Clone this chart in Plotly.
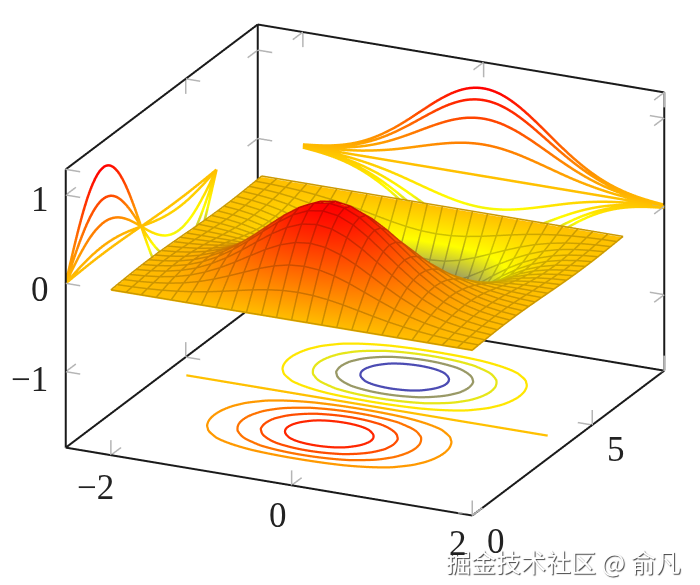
import numpy as np
import plotly.graph_objects as go

# surface sample positions
x_vals = [k / 6 for k in range(-12, 13)]
y_vals = [j * 2 * np.pi / 24 for j in range(25)]

# surface heights, one list per y row
row_a = [0.0] * 25
row_b = [.005,.009,.016,.027,.044,.067,.095,.129,.166,.202,.232,.252,.259,.252,.232,.202,.166,.129,.095,.067,.044,.027,.016,.009,.005]
row_c = [.009,.017,.031,.053,.085,.128,.184,.25,.32,.39,.448,.487,.5,.487,.448,.39,.32,.25,.184,.128,.085,.053,.031,.017,.009]
row_d = [.013,.025,.044,.074,.119,.182,.26,.353,.453,.551,.633,.688,.707,.688,.633,.551,.453,.353,.26,.182,.119,.074,.044,.025,.013]
row_e = [.016,.03,.054,.091,.146,.223,.319,.432,.555,.675,.775,.843,.866,.843,.775,.675,.555,.432,.319,.223,.146,.091,.054,.03,.016]
row_f = [.018,.034,.06,.101,.163,.248,.355,.482,.619,.752,.865,.94,.966,.94,.865,.752,.619,.482,.355,.248,.163,.101,.06,.034,.018]
row_g = [.018,.035,.062,.105,.169,.257,.368,.499,.641,.779,.895,.973,1.0,.973,.895,.779,.641,.499,.368,.257,.169,.105,.062,.035,.018]
upper_rows = [row_a, row_b, row_c, row_d, row_e, row_f, row_g, row_f, row_e, row_d, row_c, row_b, row_a]
lower_rows = [row_b, row_c, row_d, row_e, row_f, row_g, row_f, row_e, row_d, row_c, row_b, row_a]

# extra back-wall profiles
wall_row_p = [.012,.023,.041,.069,.111,.168,.241,.327,.42,.51,.586,.637,.655,.637,.586,.51,.42,.327,.241,.168,.111,.069,.041,.023,.012]
wall_row_q = [.006,.013,.022,.038,.061,.093,.132,.18,.231,.28,.322,.35,.36,.35,.322,.28,.231,.18,.132,.093,.061,.038,.022,.013,.006]

contour_levels = [-0.8, -0.6, -0.4, -0.2, 0.0, 0.2, 0.4, 0.6, 0.8]
left_wall_columns = [12, 16, 18, 21, 24]  # x = 0, .67, 1, 1.5, 2
contour_plane = -1.6
x_range = [-2.5, 2.0]
y_range = [0.0, 8.0]
z_range = [-1.86, 1.29]
x_ticks = [-2, 0, 2]
y_ticks = [0, 5]
z_ticks = [-1, 0, 1]
dx_tick, dy_tick, dz_tick = 0.16, 0.42, 0.17

hot = [[0, "rgb(0,0,255)"], [1 / 3, "rgb(255,255,0)"], [2 / 3, "rgb(255,128,0)"], [1, "rgb(255,0,0)"]]
hot_dark = [[0, "rgb(0,0,204)"], [1 / 3, "rgb(204,204,0)"], [2 / 3, "rgb(204,102,0)"], [1, "rgb(204,0,0)"]]

X = np.array(x_vals)
Y = np.array(y_vals)
Z = np.array(upper_rows + [[-v for v in r] for r in lower_rows])


def smooth(points, closed=False, passes=2):
    """Round the corners of a polyline drawn from the grid samples."""
    p = np.asarray(points, dtype=float)
    for _ in range(passes):
        q = np.vstack([p, p[:1]]) if closed else p
        a = 0.75 * q[:-1] + 0.25 * q[1:]
        b = 0.25 * q[:-1] + 0.75 * q[1:]
        m = np.empty((2 * len(a), p.shape[1]))
        m[0::2], m[1::2] = a, b
        p = m if closed else np.vstack([p[:1], m, p[-1:]])
    return p


def chain(segments):
    """Join contour cell segments into polylines."""
    rings = []
    left = [tuple(s) for s in segments]
    key = lambda c: (round(c[0], 6), round(c[1], 6))
    while left:
        a, b = left.pop()
        ring = [a, b]
        grown = True
        while grown:
            grown = False
            for n, (c, e) in enumerate(left):
                if key(c) == key(ring[-1]):
                    ring.append(e)
                elif key(e) == key(ring[-1]):
                    ring.append(c)
                else:
                    continue
                left.pop(n)
                grown = True
                break
        rings.append(ring)
    return rings


fig = go.Figure()

# frame
x0, x1 = x_range
y0, y1 = y_range
z0, z1 = z_range
frame = [
    ((x0, y0, z0), (x1, y0, z0)), ((x1, y0, z0), (x1, y1, z0)),
    ((x0, y0, z0), (x0, y1, z0)), ((x0, y1, z0), (x1, y1, z0)),
    ((x0, y0, z0), (x0, y0, z1)), ((x0, y1, z0), (x0, y1, z1)),
    ((x1, y1, z0), (x1, y1, z1)), ((x0, y0, z1), (x0, y1, z1)),
    ((x0, y1, z1), (x1, y1, z1)),
]
fx, fy, fz = [], [], []
for a, b in frame:
    fx += [a[0], b[0], None]
    fy += [a[1], b[1], None]
    fz += [a[2], b[2], None]
fig.add_trace(go.Scatter3d(x=fx, y=fy, z=fz, mode="lines", line=dict(color="#1a1a1a", width=4),
                           hoverinfo="skip", showlegend=False))

# tick marks
tx, ty, tz = [], [], []
def tick(p, d):
    tx.extend([p[0], p[0] + d[0], None])
    ty.extend([p[1], p[1] + d[1], None])
    tz.extend([p[2], p[2] + d[2], None])
for v in x_ticks:
    for (yy, zz, sy, sz) in [(y0, z0, 1, 1), (y1, z0, -1, 1), (y1, z1, -1, -1)]:
        tick((v, yy, zz), (0, sy * dy_tick, 0))
        tick((v, yy, zz), (0, 0, sz * dz_tick))
for v in y_ticks:
    for (xx, zz, sx, sz) in [(x0, z0, 1, 1), (x0, z1, 1, -1), (x1, z0, -1, 1)]:
        tick((xx, v, zz), (sx * dx_tick, 0, 0))
        tick((xx, v, zz), (0, 0, sz * dz_tick))
for v in z_ticks:
    for (xx, yy, sx, sy) in [(x0, y0, 1, 1), (x0, y1, 1, -1), (x1, y1, -1, -1)]:
        tick((xx, yy, v), (sx * dx_tick, 0, 0))
        tick((xx, yy, v), (0, sy * dy_tick, 0))
fig.add_trace(go.Scatter3d(x=tx, y=ty, z=tz, mode="lines", line=dict(color="#b5b5b5", width=3),
                           hoverinfo="skip", showlegend=False))

# surface
fig.add_trace(go.Surface(
    x=X, y=Y, z=Z, surfacecolor=Z, cmin=-1, cmax=1, colorscale=hot, showscale=False,
    lighting=dict(ambient=1, diffuse=0, specular=0, roughness=1, fresnel=0),
    contours=dict(x=dict(highlight=False), y=dict(highlight=False), z=dict(highlight=False)),
    hoverinfo="skip",
))

# mesh lines along the grid rows and columns, just above the surface
lift = 0.012
for j in range(len(y_vals)):
    fig.add_trace(go.Scatter3d(
        x=X, y=[Y[j]] * len(X), z=Z[j, :] + lift, mode="lines",
        line=dict(width=3, color=Z[j, :], cmin=-1, cmax=1, colorscale=hot_dark),
        hoverinfo="skip", showlegend=False))
for i in range(len(x_vals)):
    fig.add_trace(go.Scatter3d(
        x=[X[i]] * len(Y), y=Y, z=Z[:, i] + lift, mode="lines",
        line=dict(width=3, color=Z[:, i], cmin=-1, cmax=1, colorscale=hot_dark),
        hoverinfo="skip", showlegend=False))

# contours on the floor, traced from the surface heights
for lev in contour_levels:
    if lev == 0.0:  # level 0 lies on a row of the grid
        rings = [[(xv, Y[12]) for xv in X]]
    else:
        segments = []
        for j in range(len(y_vals) - 1):
            for i in range(len(x_vals) - 1):
                corners = [(i, j), (i + 1, j), (i + 1, j + 1), (i, j + 1)]
                pts = []
                for m in range(4):
                    a, b = corners[m], corners[(m + 1) % 4]
                    za, zb = Z[a[1], a[0]], Z[b[1], b[0]]
                    if (za > lev) != (zb > lev):
                        t = (lev - za) / (zb - za)
                        pts.append((X[a[0]] + t * (X[b[0]] - X[a[0]]), Y[a[1]] + t * (Y[b[1]] - Y[a[1]])))
                if len(pts) >= 2:
                    segments.append((pts[0], pts[1]))
        rings = chain(segments)
    for ring in rings:
        if lev != 0.0:
            p = smooth(ring[:-1], closed=True)
            p = np.vstack([p, p[:1]])
        else:
            p = np.array(ring)
        fig.add_trace(go.Scatter3d(
            x=p[:, 0], y=p[:, 1], z=[contour_plane] * len(p), mode="lines",
            line=dict(width=4.5, color=[lev] * len(p), cmin=-1, cmax=1, colorscale=hot),
            hoverinfo="skip", showlegend=False))

# curves on the left wall
for col in left_wall_columns:
    p = smooth(np.column_stack([Y, Z[:, col]]))
    fig.add_trace(go.Scatter3d(
        x=[x0] * len(p), y=p[:, 0], z=p[:, 1], mode="lines",
        line=dict(width=5, color=p[:, 1], cmin=-1, cmax=1, colorscale=hot),
        hoverinfo="skip", showlegend=False))

# curves on the back wall
wall_curves = [row_g, row_e, wall_row_p, wall_row_q, row_a,
               [-v for v in wall_row_q], [-v for v in wall_row_p], [-v for v in row_e], [-v for v in row_g]]
for curve in wall_curves:
    p = smooth(np.column_stack([X, curve]))
    fig.add_trace(go.Scatter3d(
        x=p[:, 0], y=[y1] * len(p), z=p[:, 1], mode="lines",
        line=dict(width=5, color=p[:, 1], cmin=-1, cmax=1, colorscale=hot),
        hoverinfo="skip", showlegend=False))

tick_font = dict(family="Liberation Serif", size=35, color="#222222")
pad = 0.02
def axis(rng):
    return dict(range=[rng[0] - pad, rng[1] + pad], showticklabels=False, title=dict(text=""), showgrid=False,
                zeroline=False, showline=False, showbackground=False, showspikes=False, ticks="")

def label(x, y, z, text, sx, sy):
    return dict(x=x, y=y, z=z, text=text, showarrow=False, xshift=sx, yshift=sy, font=tick_font,
                xanchor="center", yanchor="middle")

scene_labels = []
for v, sx, sy in zip(x_ticks, [-15, -14, -14], [-32, -30, -28]):
    scene_labels.append(label(v, y0, z0, str(v).replace("-", "\u2212"), sx, sy))
for v, sx, sy in zip(y_ticks, [24, 24], [-26, -25]):
    scene_labels.append(label(x1, v, z0, str(v), sx, sy))
for v, sx, sy in zip(z_ticks, [-36, -26, -26], [-8, -6, -5]):
    scene_labels.append(label(x0, y0, v, str(v).replace("-", "\u2212"), sx, sy))

d = 2.5
k = 1.73
fig.update_layout(
    width=700, height=585, margin=dict(l=0, r=0, t=0, b=0), paper_bgcolor="white", showlegend=False,
    scene=dict(
        domain=dict(x=[0.02, 1], y=[0.1043, 1]),
        xaxis=axis(x_range), yaxis=axis(y_range), zaxis=axis(z_range),
        aspectmode="manual", aspectratio=dict(x=k, y=k, z=0.665 * k),
        camera=dict(projection=dict(type="orthographic"), up=dict(x=0, y=0, z=1),
                    center=dict(x=0, y=0, z=0),
                    eye=dict(x=0.398 * d, y=-0.846 * d, z=0.355 * d)),
        annotations=scene_labels,
    ),
    annotations=[dict(text="掘金技术社区 @ 俞凡", x=675 / 700, y=1 - 553 / 585, xref="paper", yref="paper",
                      xanchor="right", yanchor="middle", showarrow=False,
                      font=dict(family="Noto Sans CJK SC", size=25, color="white", shadow="1px 1px 1px #444"))],
)
fig.write_html("out.html")
